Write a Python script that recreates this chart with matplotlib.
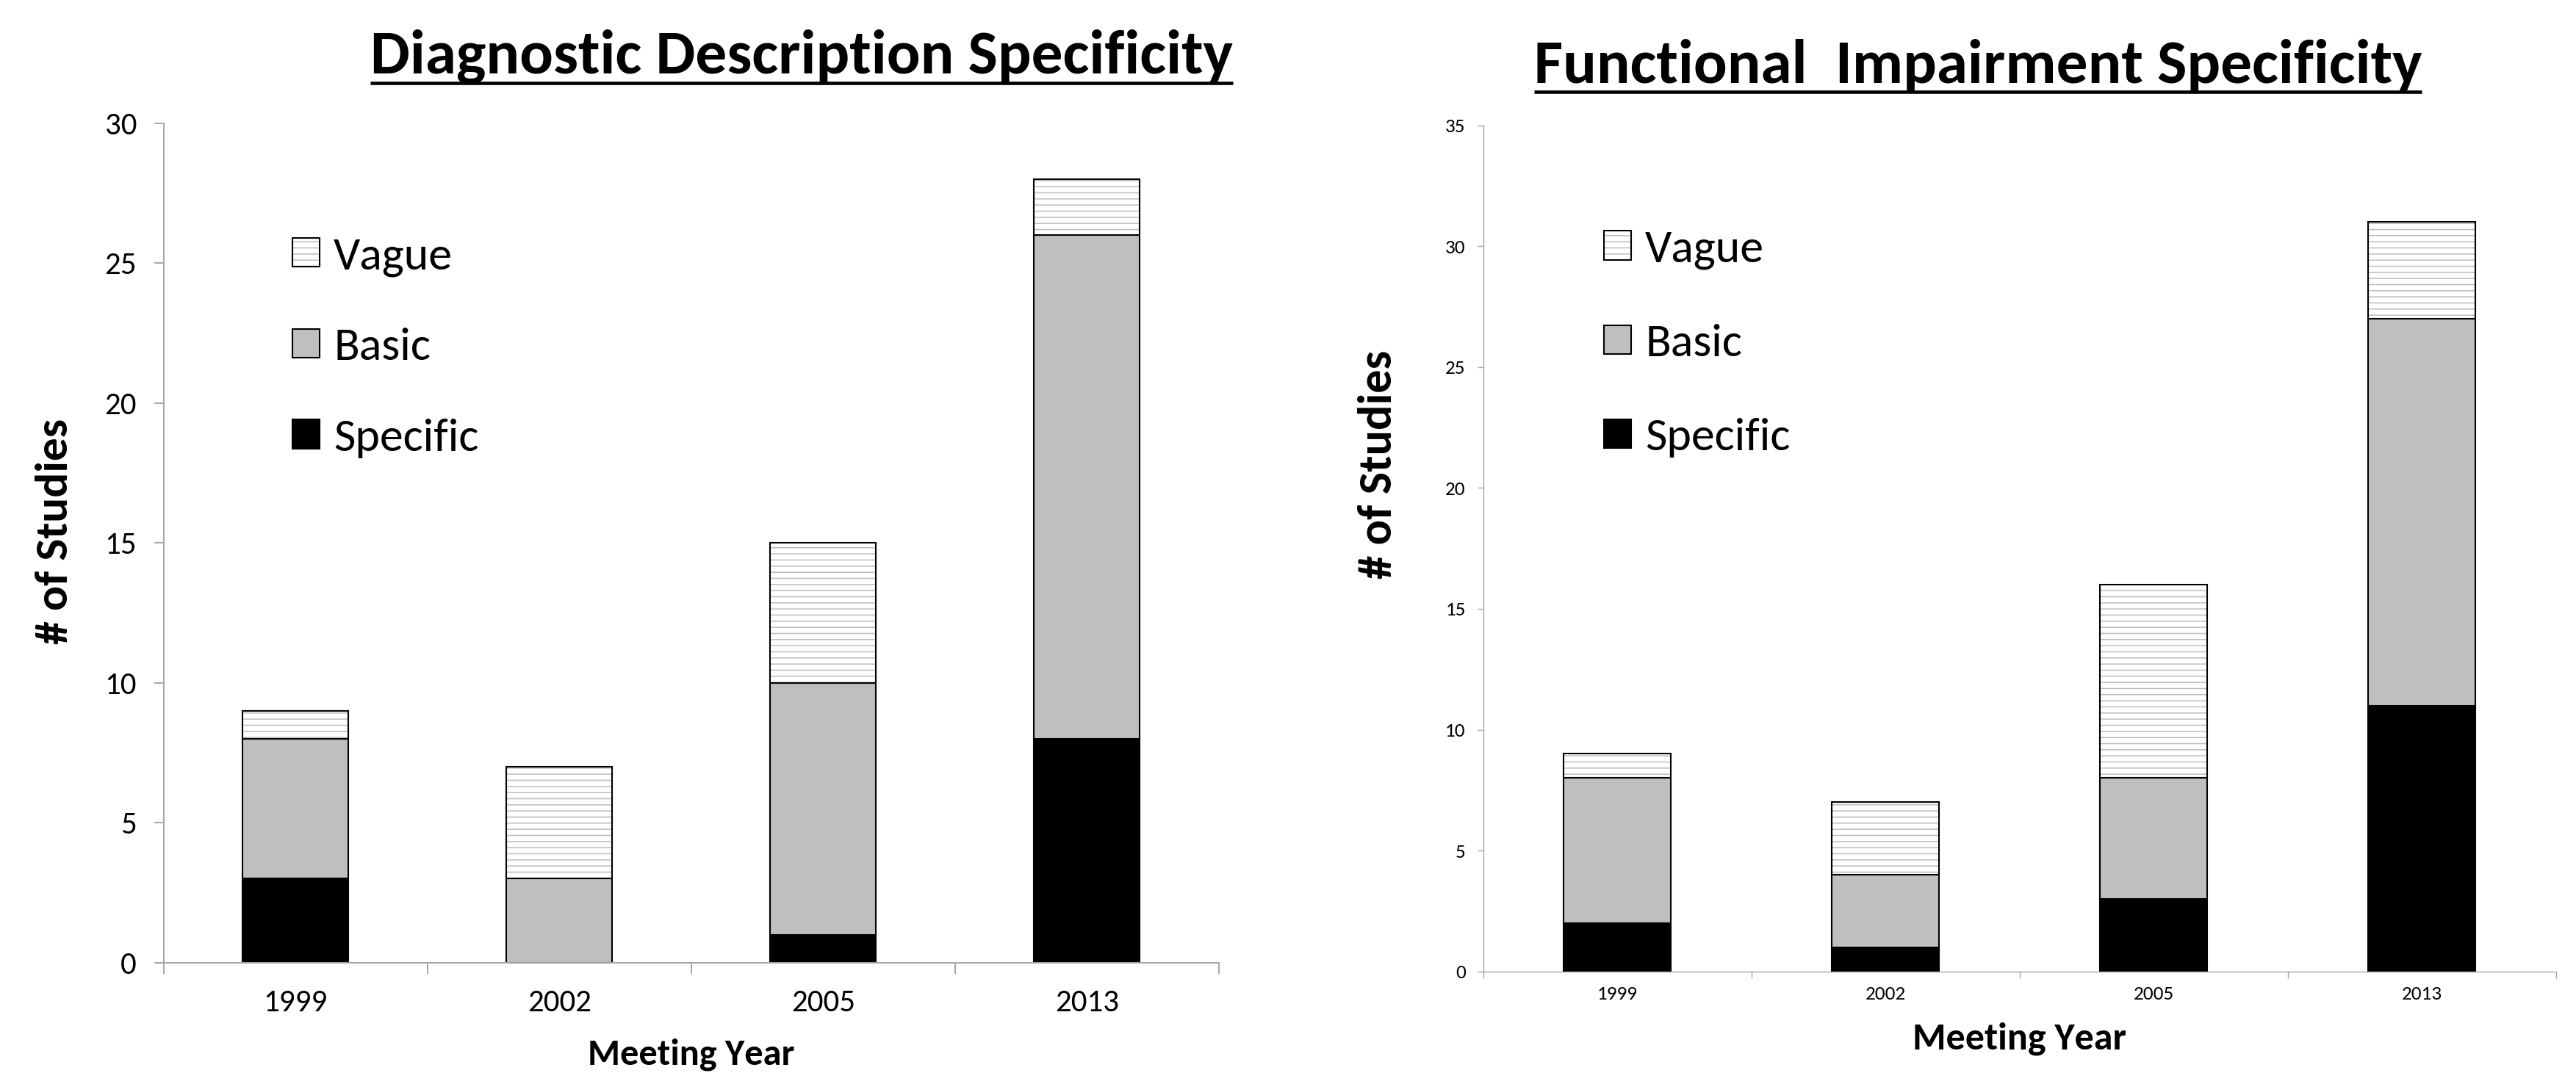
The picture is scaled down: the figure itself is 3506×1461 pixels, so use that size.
import numpy as np
import matplotlib
matplotlib.use("Agg")
import matplotlib.pyplot as plt
import matplotlib.colors as mcolors
from matplotlib.lines import Line2D
from matplotlib import font_manager

# ---------------- data ----------------
years = ["1999", "2002", "2005", "2013"]
series_names = ["Specific", "Basic", "Vague"]

diag_specific = [3, 0, 1, 8]
diag_basic = [5, 3, 9, 18]
diag_vague = [1, 4, 5, 2]

func_specific = [2, 1, 3, 11]
func_basic = [6, 3, 5, 16]
func_vague = [1, 3, 8, 4]

left_yticks = [0, 5, 10, 15, 20, 25, 30]
right_yticks = [0, 5, 10, 15, 20, 25, 30, 35]

left_title = "Diagnostic Description Specificity"
right_title = "Functional  Impairment Specificity"
y_label = "# of Studies"
x_label = "Meeting Year"

# ---------------- fonts ----------------
def pick_font():
    for f in ["Carlito", "Lato", "Open Sans"]:
        try:
            font_manager.findfont(font_manager.FontProperties(family=f),
                                  fallback_to_default=False)
            return f
        except Exception:
            pass
    return "DejaVu Sans"

FONT = pick_font()
plt.rcParams["font.family"] = [FONT, "DejaVu Sans"]
plt.rcParams["hatch.linewidth"] = 1.1

W, H = 3506, 1461
fig = plt.figure(figsize=(W / 100, H / 100), dpi=100)

def px2fig(x, y):
    return x / W, 1 - y / H

SPINE = "#a6a6a6"
HATCH = "#bdbdbd"

def draw_panel(rect, spec, basic, vague, yticks, cfg):
    ax = fig.add_axes(rect)
    x = np.arange(len(years))
    w = 0.40
    lw = cfg["bar_lw"]
    b_spec = ax.bar(x, spec, w, color="black", edgecolor="black", linewidth=lw, label=series_names[0])
    b_basic = ax.bar(x, basic, w, bottom=spec, color="#bfbfbf", edgecolor="black", linewidth=lw,
                     label=series_names[1])
    bottoms = np.add(spec, basic)
    b_vague = ax.bar(x, vague, w, bottom=bottoms, color="white", edgecolor="black", linewidth=lw,
                     hatch="--", label=series_names[2])
    hc = mcolors.to_rgba(HATCH)
    for p in b_vague:
        p._hatch_color = hc

    ax.set_xlim(-0.5, len(years) - 0.5)
    ax.set_ylim(yticks[0], yticks[-1])
    ax.set_yticks(yticks)
    ax.set_xticks(x)
    ax.set_xticklabels(years)
    ax.set_xticks(np.arange(-0.5, len(years), 1.0), minor=True)

    for s in ["top", "right"]:
        ax.spines[s].set_visible(False)
    for s in ["left", "bottom"]:
        ax.spines[s].set_color(SPINE)
        ax.spines[s].set_linewidth(cfg["spine_lw"])

    ax.tick_params(axis="y", which="major", direction="out", length=cfg["ytick_len"],
                   width=cfg["spine_lw"], color=SPINE, labelsize=cfg["tick_fs"],
                   pad=cfg["ypad"], labelcolor="black")
    ax.tick_params(axis="x", which="major", length=0, labelsize=cfg["tick_fs"],
                   pad=cfg["xpad"], labelcolor="black")
    ax.tick_params(axis="x", which="minor", direction="out", length=cfg["xtick_len"],
                   width=cfg["spine_lw"], color=SPINE)

    ax.legend(handles=[b_vague, b_basic, b_spec],
              labels=[series_names[2], series_names[1], series_names[0]],
              loc="upper left", bbox_to_anchor=cfg["leg_anchor"], frameon=False,
              fontsize=cfg["leg_fs"], handlelength=0.58, handleheight=0.58,
              handletextpad=0.3, labelspacing=cfg["leg_spacing"],
              borderpad=0, borderaxespad=0)

    ax.set_ylabel(y_label, fontweight="bold", fontsize=36, va="center")
    ax.yaxis.set_label_coords(*cfg["ylab_xy"])
    ax.set_xlabel(x_label, fontweight="bold", fontsize=34, va="baseline")
    ax.xaxis.set_label_coords(*cfg["xlab_xy"])
    return ax

def rect_from_px(x0, x1, ytop, ybot):
    return [x0 / W, 1 - ybot / H, (x1 - x0) / W, (ybot - ytop) / H]

left_cfg = dict(bar_lw=1.5, spine_lw=1.4, ytick_len=9.4, xtick_len=10.8, tick_fs=31,
                ypad=17, xpad=26, leg_anchor=(0.122, 0.865), leg_fs=46, leg_spacing=1.09,
                ylab_xy=(-0.1029, 0.514), xlab_xy=(0.5, -0.121))
right_cfg = dict(bar_lw=1.5, spine_lw=1.0, ytick_len=5.8, xtick_len=6.5, tick_fs=19.5,
                 ypad=11.5, xpad=14, leg_anchor=(0.1125, 0.877), leg_fs=46, leg_spacing=1.16,
                 ylab_xy=(-0.0977, 0.5996), xlab_xy=(0.5, -0.0915))

axL = draw_panel(rect_from_px(222.7, 1658.7, 167.7, 1310.7),
                 diag_specific, diag_basic, diag_vague, left_yticks, left_cfg)
axR = draw_panel(rect_from_px(2018.7, 3479.0, 170.7, 1322.7),
                 func_specific, func_basic, func_vague, right_yticks, right_cfg)

tL = fig.text(*px2fig(1091, 100), left_title, fontsize=58, fontweight="bold",
              ha="center", va="baseline")
tR = fig.text(*px2fig(2692, 113), right_title, fontsize=58, fontweight="bold",
              ha="center", va="baseline")

fig.canvas.draw()
r = fig.canvas.get_renderer()

def fit(t, target, horizontal=True):
    bb = t.get_window_extent(r)
    cur = bb.width if horizontal else bb.height
    if cur > 0:
        t.set_fontsize(t.get_fontsize() * target / cur)

fit(tL, 1172)
fit(tR, 1208)
fit(axL.yaxis.label, 307, horizontal=False)
fit(axR.yaxis.label, 311, horizontal=False)
fit(axL.xaxis.label, 282)
fit(axR.xaxis.label, 291)

fig.canvas.draw()
for t, uy in [(tL, 113), (tR, 125)]:
    bb = t.get_window_extent(r)
    y = 1 - uy / H
    fig.add_artist(Line2D([bb.x0 / W, bb.x1 / W], [y, y], transform=fig.transFigure,
                          color="black", linewidth=3.3, solid_capstyle="butt"))

fig.savefig("out.png", dpi=100)
